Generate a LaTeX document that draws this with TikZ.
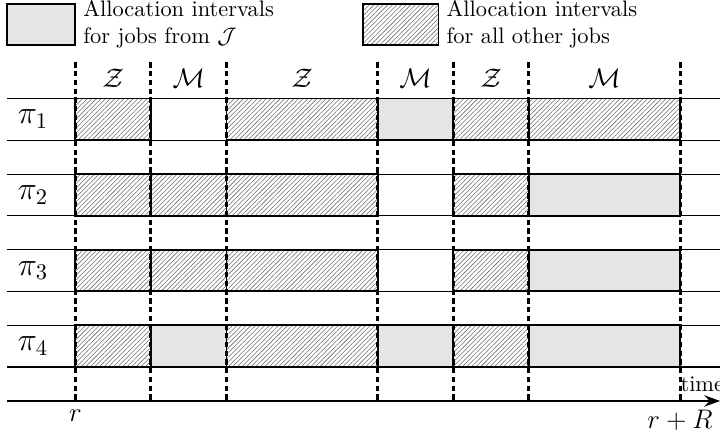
\documentclass[tikz,border=0pt]{standalone}
\usetikzlibrary{patterns.meta,arrows.meta}
\tikzset{
  jbox/.style={draw=black, line width=0.8pt, fill=gray!20},
  obox/.style={draw=black, line width=0.8pt, pattern={Lines[angle=45,distance=1.45pt,line width=0.25pt]}, pattern color=gray!85!black},
  rowline/.style={line width=0.5pt},
  divider/.style={line width=1.4pt, dash pattern=on 2.4pt off 1.5pt},
  axisline/.style={line width=1.3pt, -{Stealth[length=7pt,width=5pt]}},
  leg/.style={anchor=west, align=left, inner sep=3.4pt},
  colname/.style={font=\large},
  procname/.style={font=\Large},
}
\begin{document}
\begin{tikzpicture}[x=33.75pt,y=33.75pt]
\useasboundingbox (-0.996,-0.4365) rectangle (8.528,5.304);
% legend
\draw[jbox] (-0.904,4.71) rectangle (0,5.25);
\node[leg] (legJ) at (0,4.98) {Allocation intervals\\for jobs from $\mathcal{J}$};
\draw[obox] (3.806,4.71) rectangle (4.804,5.25);
\node[leg] (legO) at (4.804,4.98) {Allocation intervals\\for all other jobs};
% row lines
\foreach \k in {1,2,3,4}{
  \draw[rowline] (-0.9,5-\k) -- (8.6,5-\k);
  \draw[rowline] (-0.9,5-\k-0.55) -- (8.6,5-\k-0.55);
}
% allocation intervals: row/start/end/style
\foreach \k/\a/\b/\s in {
  1/0/1/obox, 1/2/4/obox, 1/4/5/jbox, 1/5/6/obox, 1/6/8/obox,
  2/0/1/obox, 2/1/2/obox, 2/2/4/obox, 2/5/6/obox, 2/6/8/jbox,
  3/0/1/obox, 3/1/2/obox, 3/2/4/obox, 3/5/6/obox, 3/6/8/jbox,
  4/0/1/obox, 4/1/2/jbox, 4/2/4/obox, 4/4/5/jbox, 4/5/6/obox, 4/6/8/jbox}{
  \draw[\s] (\a,5-\k-0.55) rectangle (\b,5-\k);
}
% processor labels
\foreach \k in {1,2,3,4}{
  \node[procname] (p\k) at (-0.56,5-\k-0.275) {$\pi_{\k}$};
}
% axis
\coordinate (axs) at (-0.9,0);
\coordinate (axe) at (8.53,0);
\draw[axisline] (axs) -- (axe);
% dividers
\foreach \x in {0,1,2,4,5,6,8}{
  \coordinate (dt\x) at (\x,4.48);
  \coordinate (db\x) at (\x,0);
  \draw[divider] (dt\x) -- (db\x);
}
% column names
\foreach \x/\n/\m in {0.5/z1/Z, 1.5/m1/M, 3/z2/Z, 4.5/m2/M, 5.5/z3/Z, 7/m3/M}{
  \node[colname] (\n) at (\x,4.27) {$\mathcal{\m}$};
}
% axis labels
\node[font=\large, below] (r) at (0,-0.02) {$r$};
\node[font=\large, below] (rR) at (8,-0.02) {$r+R$};
\node[anchor=base west, inner sep=0pt] (time) at (8.0,0.12) {time};
\end{tikzpicture}
\end{document}
